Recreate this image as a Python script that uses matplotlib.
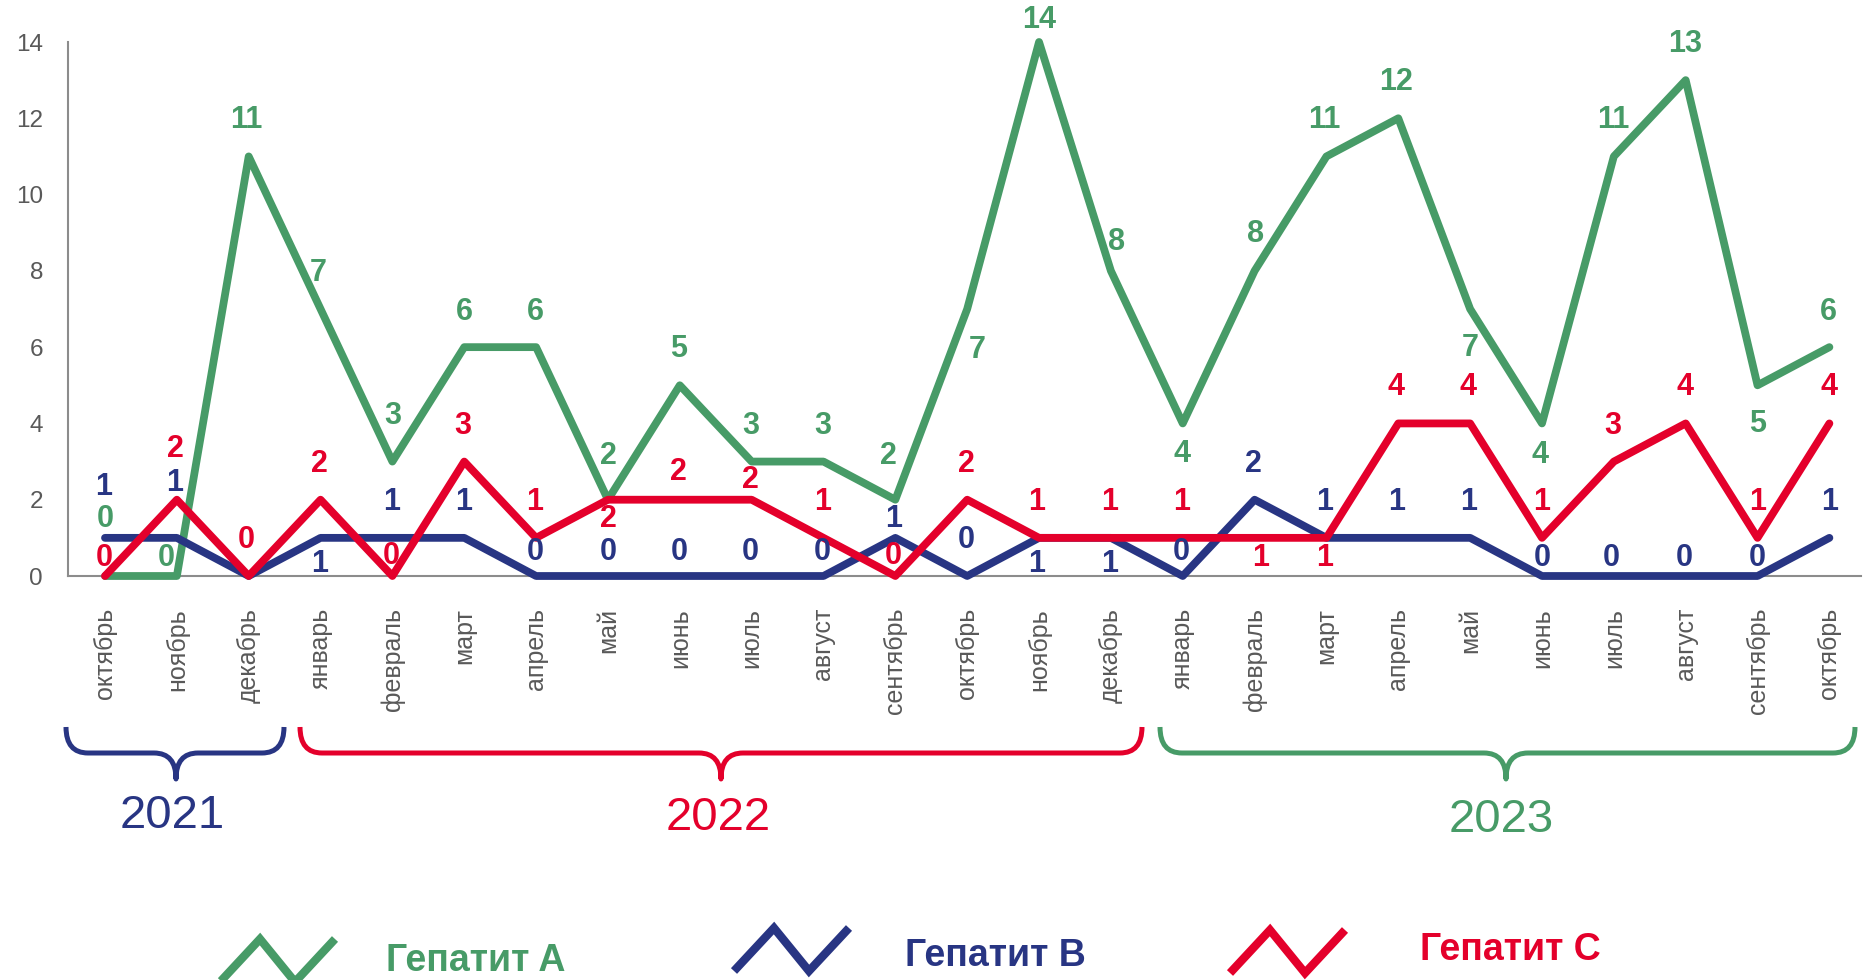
import matplotlib
matplotlib.use("Agg")
import matplotlib.pyplot as plt
from matplotlib.path import Path
from matplotlib.patches import PathPatch
from matplotlib.lines import Line2D

plt.rcParams['font.family'] = ['Liberation Sans', 'DejaVu Sans']

# ---------------- data ----------------
months = ["октябрь", "ноябрь", "декабрь",
          "январь", "февраль", "март", "апрель", "май", "июнь", "июль",
          "август", "сентябрь", "октябрь", "ноябрь", "декабрь",
          "январь", "февраль", "март", "апрель", "май", "июнь", "июль",
          "август", "сентябрь", "октябрь"]
hep_a = [0, 0, 11, 7, 3, 6, 6, 2, 5, 3, 3, 2, 7, 14, 8, 4, 8, 11, 12, 7, 4, 11, 13, 5, 6]
hep_b = [1, 1, 0, 1, 1, 1, 0, 0, 0, 0, 0, 1, 0, 1, 1, 0, 2, 1, 1, 1, 0, 0, 0, 0, 1]
hep_c = [0, 2, 0, 2, 0, 3, 1, 2, 2, 2, 1, 0, 2, 1, 1, 1, 1, 1, 4, 4, 1, 3, 4, 1, 4]
series_names = ["Гепатит A", "Гепатит B", "Гепатит C"]
years = ["2021", "2022", "2023"]

# ---------------- style ----------------
GREEN = "#479B67"
BLUE = "#283583"
RED = "#E4002B"
GRAY = "#595959"
AXIS = "#8C8C8C"
colors = [GREEN, BLUE, RED]

# label offsets (pixels: dx, dy up)
off_a = [(0, 57), (-11, 18), (-2, 36), (-2, 36), (0, 46), (0, 35), (-1, 35), (0, 44),
         (-1, 36), (-1, 36), (-1, 36), (-7, 44), (10, -41), (0, 22), (6, 29), (-1, -31),
         (1, 37), (-2, 36), (-2, 36), (0, -39), (-2, -32), (-1, 36), (-1, 36), (0, -39), (-1, 35)]
off_b = [(-1, 51), (-2, 55), None, (-1, -26), (-1, 36), (-1, 36), (-1, 24), (0, 24),
         (-1, 24), (-1, 24), (-1, 24), (-2, 19), (-1, 36), (-2, -26), (-1, -26), (-1, 24),
         (-1, 36), (-2, 36), (-2, 36), (-2, 36), (0, 18), (-3, 18), (-1, 18), (0, 18), (0, 36)]
off_c = [(-1, 18), (-1, 51), (-2, 36), (-1, 36), (-1, 20), (-1, 36), (-1, 36), (0, -19),
         (-1, 28), (-1, 20), (-1, 36), (-2, 20), (-1, 36), (-2, 36), (-1, 36), (-1, 36),
         (6, -20), (-2, -20), (-2, 36), (-2, 36), (0, 36), (-1, 36), (-1, 36), (0, 36), (0, 36)]

W, H = 1873, 980
fig = plt.figure(figsize=(W / 100, H / 100), dpi=100)

def fx(px):
    return px / W

def fy(py):
    return 1 - py / H

ax = fig.add_axes([fx(68), fy(576), fx(1861) - fx(68), fy(42) - fy(576)])
x = list(range(len(months)))

for vals, col in zip([hep_a, hep_b, hep_c], colors):
    ax.plot(x, vals, color=col, lw=5.6, solid_joinstyle='round',
            solid_capstyle='round', clip_on=False, zorder=3)

for vals, col, offs in zip([hep_a, hep_b, hep_c], colors, [off_a, off_b, off_c]):
    for xi, v, o in zip(x, vals, offs):
        if o is None:
            continue
        ax.annotate(str(v), (xi, v), xytext=o, textcoords='offset pixels',
                    ha='center', va='center', color=col, fontsize=22,
                    fontweight='bold', annotation_clip=False, zorder=5)

ax.set_xlim(-0.515, 24.44)
ax.set_ylim(0, 14)
ax.set_yticks(range(0, 15, 2))
ax.set_xticks(x)
ax.set_xticklabels(months, rotation=90, fontsize=18, color=GRAY)
ax.tick_params(axis='x', length=0, pad=23)
ax.tick_params(axis='y', length=0, pad=18, labelsize=17.5, labelcolor=GRAY)
for s in ['top', 'right']:
    ax.spines[s].set_visible(False)
for s in ['left', 'bottom']:
    ax.spines[s].set_color(AXIS)
    ax.spines[s].set_linewidth(1.5)
ax.set_facecolor('none')

# ---------------- braces ----------------
def brace(x0, x1, xm, ytop, ybar, ytip, col):
    r = 22
    verts = [
        (x0, ytop), (x0, ybar), (x0 + r, ybar),
        (xm - r, ybar),
        (xm, ybar), (xm, ytip),
        (xm, ybar), (xm + r, ybar),
        (x1 - r, ybar),
        (x1, ybar), (x1, ytop),
    ]
    codes = [Path.MOVETO, Path.CURVE3, Path.CURVE3,
             Path.LINETO,
             Path.CURVE3, Path.CURVE3,
             Path.CURVE3, Path.CURVE3,
             Path.LINETO,
             Path.CURVE3, Path.CURVE3]
    verts = [(fx(a), fy(b)) for a, b in verts]
    p = PathPatch(Path(verts, codes), facecolor='none', edgecolor=col, lw=3.6,
                  transform=fig.transFigure, capstyle='butt', joinstyle='round')
    fig.add_artist(p)

brace_px = [(66, 284, 176), (300, 1142, 721), (1160, 1855, 1506)]
year_pos = [(172, 816), (718, 818), (1501, 820)]
year_cols = [BLUE, RED, GREEN]
for (x0, x1, xm), (tx, ty), col, yr in zip(brace_px, year_pos, year_cols, years):
    brace(x0, x1, xm, 727, 753, 779, col)
    fig.text(fx(tx), fy(ty), yr, ha='center', va='center', fontsize=34, color=col)

# ---------------- legend ----------------
icon_x = [220, 734, 1230]
icon_y = [(982, 939), (971, 928), (973, 930)]
text_x = [386, 905, 1420]
text_y = [961, 956, 950]
for name, col, ix, (yb, yt), tx, ty in zip(series_names, colors, icon_x, icon_y, text_x, text_y):
    xs = [ix, ix + 40, ix + 75, ix + 115]
    ys = [yb, yt, yb, yt]
    fig.add_artist(Line2D([fx(v) for v in xs], [fy(v) for v in ys], color=col, lw=6,
                          transform=fig.transFigure, solid_joinstyle='miter',
                          solid_capstyle='butt'))
    fig.text(fx(tx), fy(ty), name, ha='left', va='center', fontsize=27,
             fontweight='bold', color=col)

fig.savefig("out.png", dpi=100)
